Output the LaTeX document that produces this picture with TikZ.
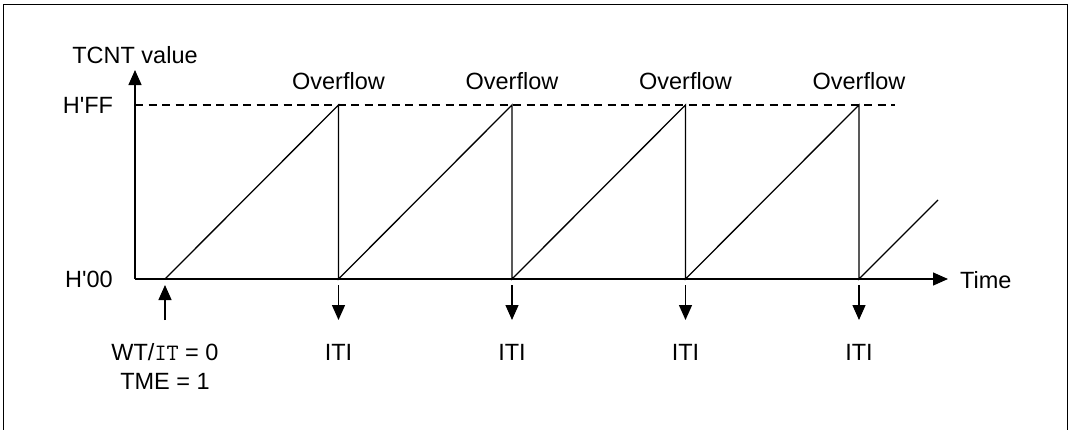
\documentclass[tikz,border=0pt]{standalone}
\usepackage{fontspec}
\setmainfont{Liberation Sans}
\usetikzlibrary{arrows.meta}
\begin{document}
\begin{tikzpicture}[x=1pt,y=-1pt,
  line/.style={line width=1.3pt,black},
  axis/.style={line width=1.3pt,-{Triangle[length=15pt,width=13pt]}},
  dashline/.style={line width=1.3pt,dash pattern=on 8pt off 5.5pt},
  lbl/.style={font=\fontsize{23.5}{28}\selectfont,inner sep=0pt}]
\useasboundingbox (0,0) rectangle (1072,429);
% frame (bottom edge is outside the picture)
\draw[line width=1.4pt] (3.5,440) -- (3.5,4.5) -- (1067.5,4.5) -- (1067.5,440);
% axes
\coordinate (O) at (135,279);
\coordinate (ytop) at (135,70);
\coordinate (xend) at (948,279);
\draw[axis] (O) -- (ytop);
\draw[axis] (O) -- (xend);
\coordinate (ffl) at (135,105);
\coordinate (ffr) at (895,105);
\draw[dashline] (ffl) -- (ffr);
% ramps
\coordinate (s0) at (165,279);
\foreach \i/\x in {1/338.5,2/512,3/685.5,4/859}{
  \coordinate (p\i) at (\x,105);
  \coordinate (s\i) at (\x,279);
}
\coordinate (e) at (938,200);
\draw[line] (s0) -- (p1) -- (s1) -- (p2) -- (s2) -- (p3) -- (s3) -- (p4) -- (s4) -- (e);
% labels
\node[lbl] (tcnt) at (135,55) {TCNT value};
\node[lbl] (hff) at (88,105) {H\textquotesingle FF};
\node[lbl] (h00) at (89,279) {H\textquotesingle 00};
\node[lbl,anchor=west] (time) at (960,280) {Time};
\foreach \i/\x in {1/338.5,2/512,3/685.5,4/859}{
  \node[lbl] (of\i) at (\x,81) {Overflow};
  \coordinate (da\i) at (\x,285);
  \coordinate (db\i) at (\x,320);
  \draw[axis] (da\i) -- (db\i);
  \node[lbl] (iti\i) at (\x,352) {ITI};
}
% start arrow
\coordinate (ua) at (165,320);
\coordinate (ub) at (165,285);
\draw[axis] (ua) -- (ub);
\node[lbl] (wt) at (165,352) {WT/{\ttfamily IT} = 0};
\node[lbl] (tme) at (165,381) {TME = 1};
\end{tikzpicture}
\end{document}
